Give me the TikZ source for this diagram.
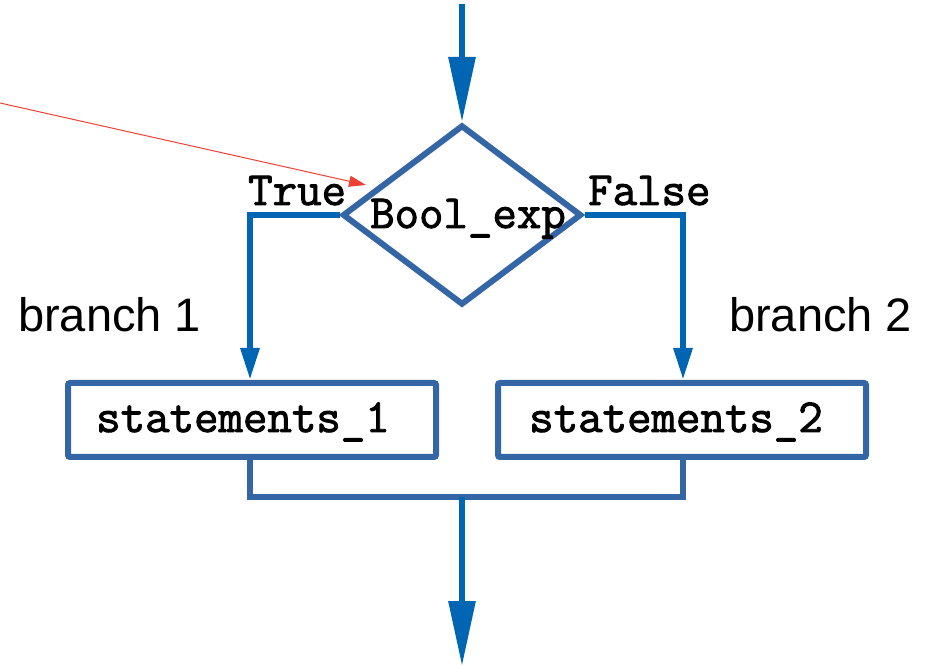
\documentclass[tikz,border=0pt]{standalone}
\usepackage{fontspec}
\setmonofont{Latin Modern Mono}[AutoFakeBold=2]
\setsansfont{Liberation Sans}
\usepackage{tikz}
\usetikzlibrary{arrows.meta,shapes.geometric}
\definecolor{boxblue}{RGB}{52,101,164}
\definecolor{flowblue}{RGB}{0,102,179}
\definecolor{ptrred}{RGB}{238,64,53}

\begin{document}
\begin{tikzpicture}[x=1pt,y=-1pt,
  mono/.style={font=\fontsize{47.5}{47.5}\selectfont\ttfamily\bfseries,inner sep=0},
  sans/.style={font=\fontsize{47}{47}\selectfont\sffamily,inner sep=0},
  cond/.style={draw=boxblue,line width=6pt,diamond,inner sep=0,
    minimum width=239pt,minimum height=180pt,line join=miter},
  stmt/.style={draw=boxblue,line width=6pt,rectangle,inner sep=0,rounded corners=2pt,
    minimum width=368pt,minimum height=74pt},
  flow/.style={draw=flowblue,line width=6pt,-{Triangle[length=65pt,width=26pt]}},
  branch/.style={draw=flowblue,line width=6pt,-{Triangle[length=32pt,width=18pt]}}]

\useasboundingbox (0,0) rectangle (930,668);

\coordinate (in) at (462,4);
\coordinate (out) at (462,666);
\coordinate (ptrstart) at (0,103);
\coordinate (ptr) at (366,185);

\node [cond] (test) at (462,215) {};
\node [mono,anchor=base] (testtxt) at (468,228) {Bool\_exp};

\node [stmt] (s1) at (252,420) {};
\node [mono,anchor=base] (s1txt) at (243,432) {statements\_1};
\node [stmt] (s2) at (682,420) {};
\node [mono,anchor=base] (s2txt) at (676,432) {statements\_2};

\node [mono,anchor=base west] (true) at (248,205) {True};
\node [mono,anchor=base west] (false) at (588,205) {False};
\node [sans,anchor=base west] (b1) at (18,332) {branch 1};
\node [sans,anchor=base west] (b2) at (729,332) {branch 2};

\coordinate (join) at (462,497);

\draw [flow] (in) -- (test.north);
\draw [branch] (test.west) -| (s1.north -| 250,0);
\draw [branch] (test.east) -| (s2.north -| 683,0);
\draw [draw=boxblue,line width=6pt,line join=miter]
  (s1.south -| 250,0) |- (join) -| (s2.south -| 683,0);
\draw [flow] (join) -- (out);

\draw [ptrred,line width=1pt,-{Triangle[length=17pt,width=11pt]}] (ptrstart) -- (ptr);
\end{tikzpicture}
\end{document}
